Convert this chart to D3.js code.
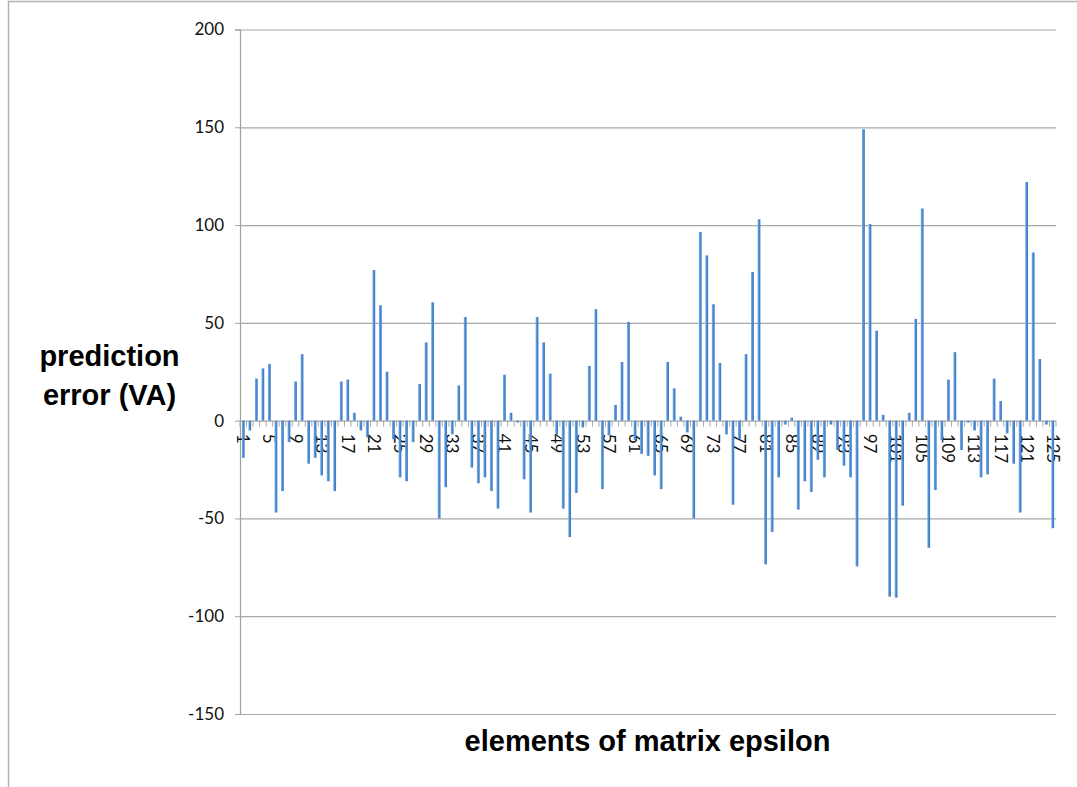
<!DOCTYPE html>
<html>
<head>
<meta charset="utf-8">
<script src="https://cdn.jsdelivr.net/npm/d3@7"></script>
<style>
  html, body { margin: 0; padding: 0; background: #fff; }
  svg { display: block; }
</style>
</head>
<body>
<svg id="chart" width="1077" height="787"></svg>
<script>
// ---- data ----
const categories = d3.range(1, 126);
const errors = [
  -19, -5, 21.5, 26.7, 29, -47, -36, -11, 20, 34,
  -22, -19, -28, -31, -36, 20, 21, 4, -5, -8.5,
  77, 59, 25, -9.5, -29, -31, -11, 18.7, 40, 60.5,
  -50, -34, -7, 18, 53, -24, -32, -29, -36, -45,
  23.5, 4, -1, -30, -47, 53, 40, 24, -7, -45,
  -59.5, -37, -3.5, 28, 57, -35, -7.5, 8, 30, 50.5,
  -10, -17, -18, -28, -35, 30, 16.5, 2, -6, -50,
  96.5, 84.5, 59.5, 29.5, -7, -43, -9.5, 34, 76, 103,
  -73.5, -57, -29, -2, 1.5, -45.5, -31, -36.5, -20, -29,
  -2, -15, -23, -29, -74.5, 149, 100.5, 46, 3, -90,
  -90.5, -43.5, 4, 52, 108.5, -65, -35.5, -10, 21, 35,
  -15, -1, -5, -29, -27.5, 21.5, 10, -6.5, -22, -47,
  122, 86, 31.5, -2, -55
];
const xTickLabels = [1, 5, 9, 13, 17, 21, 25, 29, 33, 37, 41, 45, 49, 53, 57, 61,
  65, 69, 73, 77, 81, 85, 89, 93, 97, 101, 105, 109, 113, 117, 121, 125];
const yTicks = [-150, -100, -50, 0, 50, 100, 150, 200];
const yLabelLines = ["prediction", "error (VA)"];
const xLabel = "elements of matrix epsilon";

// ---- layout ----
const svg = d3.select("#chart");
const plot = { left: 240, right: 1056, top: 29.5, bottom: 714 };

const x = d3.scaleBand().domain(categories).range([plot.left, plot.right]).padding(0);
const y = d3.scaleLinear().domain([-150, 200]).range([plot.bottom, plot.top]);

// frame
svg.append("line").attr("x1", 8).attr("x2", 1077).attr("y1", 1.5).attr("y2", 1.5)
  .attr("stroke", "#b3b3b3").attr("stroke-width", 1.5);
svg.append("line").attr("x1", 8.5).attr("x2", 8.5).attr("y1", 1).attr("y2", 787)
  .attr("stroke", "#b3b3b3").attr("stroke-width", 1.5);

// gradient for bars
const defs = svg.append("defs");
const grad = defs.append("linearGradient").attr("id", "barGrad")
  .attr("x1", "0%").attr("x2", "100%").attr("y1", "0%").attr("y2", "0%");
grad.append("stop").attr("offset", "0%").attr("stop-color", "#86b6ea");
grad.append("stop").attr("offset", "45%").attr("stop-color", "#4d8dd3");
grad.append("stop").attr("offset", "100%").attr("stop-color", "#3a76bc");

const tickFont = "Lato, 'Open Sans', sans-serif";

// y axis (gridlines + labels)
const yAxis = d3.axisLeft(y).tickValues(yTicks).tickSize(5).tickPadding(11)
  .tickFormat(d => String(d));
const gy = svg.append("g").attr("transform", `translate(${plot.left},0)`).call(yAxis);
gy.select(".domain").attr("stroke", "#a0a0a0").attr("stroke-width", 1.2);
gy.selectAll(".tick line").attr("stroke", "#a0a0a0");
gy.selectAll(".tick text").attr("font-family", tickFont)
  .attr("font-size", 17).attr("fill", "#111");
gy.selectAll(".tick").append("line")
  .attr("x1", 0).attr("x2", plot.right - plot.left)
  .attr("stroke", "#a8a8a8").attr("stroke-width", 1.2);

// x axis at zero
const xAxis = d3.axisBottom(x).tickSize(0).tickFormat(d => xTickLabels.includes(d) ? String(d) : "");
const gx = svg.append("g").attr("transform", `translate(0,${y(0)})`).call(xAxis);
gx.select(".domain").remove();
gx.selectAll(".tick text")
  .attr("font-family", tickFont)
  .attr("font-size", 17).attr("fill", "#111")
  .attr("text-anchor", "start")
  .attr("dy", "0.35em")
  .attr("transform", "translate(0,13) rotate(90)")
  .attr("x", 0).attr("y", 0);

// category boundary ticks
const boundaries = categories.map(c => x(c)).concat([plot.right]);
svg.append("g").selectAll("line").data(boundaries).join("line")
  .attr("x1", d => d).attr("x2", d => d)
  .attr("y1", y(0)).attr("y2", y(0) + 6)
  .attr("stroke", "#a8a8a8").attr("stroke-width", 1);

// bars
const barW = 2.8;
svg.append("g").selectAll("rect").data(categories).join("rect")
  .attr("x", (d) => x(d) + x.bandwidth() / 2 - barW / 2)
  .attr("width", barW)
  .attr("y", (d, i) => y(Math.max(0, errors[i])))
  .attr("height", (d, i) => Math.abs(y(errors[i]) - y(0)))
  .attr("fill", "url(#barGrad)");

// axis titles
const titleFont = "'Liberation Sans', Arial, Helvetica, sans-serif";
svg.append("text").attr("x", 109.5).attr("y", 366)
  .attr("text-anchor", "middle").attr("font-family", titleFont)
  .attr("font-weight", "bold").attr("font-size", 29).text(yLabelLines[0]);
svg.append("text").attr("x", 109.5).attr("y", 405)
  .attr("text-anchor", "middle").attr("font-family", titleFont)
  .attr("font-weight", "bold").attr("font-size", 29).text(yLabelLines[1]);
svg.append("text").attr("x", 647.5).attr("y", 751)
  .attr("text-anchor", "middle").attr("font-family", titleFont)
  .attr("font-weight", "bold").attr("font-size", 29).text(xLabel);
</script>
</body>
</html>
